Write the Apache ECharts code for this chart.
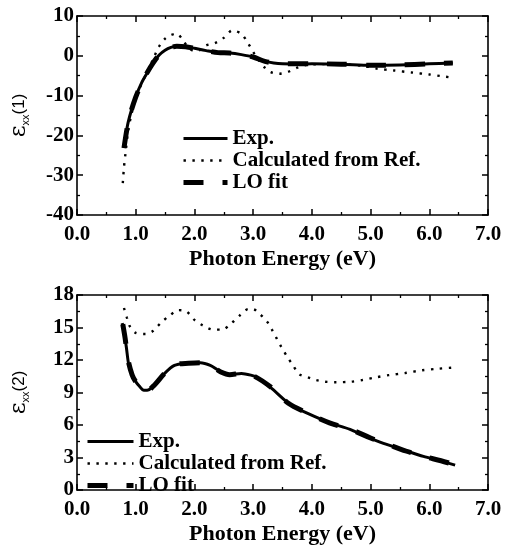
<!DOCTYPE html>
<html>
<head>
<meta charset="utf-8">
<script src="https://cdn.jsdelivr.net/npm/echarts@6/dist/echarts.min.js"></script>
<style>
  html, body { margin: 0; padding: 0; background: #fff; }
  #main { width: 507px; height: 546px; }
</style>
</head>
<body>
<div id="main"></div>
<script>
// 数据：光子能量 (eV) 与介电函数
var xTicks = [0, 1, 2, 3, 4, 5, 6, 7];
var seriesNames = ['Exp.', 'Calculated from Ref.', 'LO fit'];

// εxx(1)
var eps1Exp = [[0.8,-23],[0.83,-20],[0.87,-16.8],[0.93,-13.5],[1.0,-10.3],[1.1,-6.8],[1.2,-4.2],[1.3,-1.8],[1.4,0.2],[1.5,1.4],[1.6,2.1],[1.7,2.4],[1.8,2.4],[1.9,2.2],[2.0,1.9],[2.2,1.3],[2.4,0.8],[2.6,0.7],[2.8,0.3],[3.0,-0.3],[3.1,-0.9],[3.2,-1.4],[3.35,-1.8],[3.5,-2.0],[3.8,-2.1],[4.0,-2.0],[4.5,-2.1],[5.0,-2.4],[5.5,-2.3],[6.0,-2.0],[6.4,-1.8]];
var eps1Calc = [[0.78,-32],[0.8,-28],[0.83,-24],[0.87,-19],[0.93,-14.5],[1.0,-11],[1.1,-7],[1.2,-4],[1.3,-0.7],[1.4,2.4],[1.5,4.3],[1.6,5.2],[1.7,5.6],[1.8,4],[1.9,2],[2.0,1.2],[2.1,1.5],[2.2,2.6],[2.35,3.2],[2.5,4.5],[2.65,6.4],[2.8,5.5],[2.9,3.5],[3.0,1],[3.1,-1.2],[3.2,-3],[3.3,-4.1],[3.45,-4.5],[3.6,-4],[3.75,-3],[3.9,-2.3],[4.2,-2.1],[4.6,-2.2],[4.9,-2.6],[5.1,-3.2],[5.4,-3.7],[5.7,-4.2],[6.0,-4.7],[6.2,-5.1],[6.4,-5.5]];
var eps1LO = [[0.8,-23.2],[0.85,-18.5],[0.9,-15],[1.0,-10.4],[1.1,-6.9],[1.2,-4.1],[1.3,-1.7],[1.4,0.2],[1.55,1.8],[1.7,2.4],[1.85,2.3],[2.0,1.9],[2.2,1.3],[2.4,0.8],[2.6,0.7],[2.8,0.3],[3.0,-0.3],[3.2,-1.4],[3.5,-2.0],[4.0,-2.0],[4.5,-2.1],[5.0,-2.4],[5.5,-2.3],[6.0,-2.0],[6.4,-1.8]];

// εxx(2)
var eps2Exp = [[0.77,15.4],[0.8,14.6],[0.84,13.2],[0.88,11.6],[0.94,10.6],[1.0,10.0],[1.06,9.6],[1.14,9.2],[1.22,9.25],[1.32,9.7],[1.48,10.7],[1.66,11.5],[1.88,11.7],[2.1,11.75],[2.27,11.5],[2.44,10.95],[2.6,10.65],[2.8,10.75],[2.96,10.6],[3.06,10.4],[3.29,9.5],[3.63,7.9],[3.92,7.1],[4.31,6.2],[4.65,5.6],[4.94,4.9],[5.22,4.3],[5.56,3.7],[5.9,3.1],[6.18,2.7],[6.44,2.3]];
var eps2Calc = [[0.8,16.8],[0.85,15.9],[0.9,15.1],[1.0,14.5],[1.17,14.4],[1.3,14.7],[1.44,15.5],[1.58,16.1],[1.72,16.6],[1.86,16.5],[2.0,15.7],[2.14,15.2],[2.32,14.8],[2.47,14.8],[2.63,15.4],[2.77,16.1],[2.92,16.7],[3.0,16.7],[3.1,16.3],[3.23,15.6],[3.32,14.8],[3.4,14.0],[3.48,13.2],[3.58,12.3],[3.68,11.5],[3.78,10.7],[3.93,10.4],[4.07,10.15],[4.22,10.0],[4.41,9.95],[4.67,10.0],[4.86,10.15],[5.09,10.4],[5.31,10.6],[5.59,10.8],[5.88,11.05],[6.16,11.2],[6.41,11.3]];
var eps2LO = [[0.78,15.3],[0.82,14.0],[0.87,12.0],[0.94,10.6],[1.0,10.0],[1.1,9.4],[1.2,9.2],[1.32,9.7],[1.5,10.8],[1.7,11.6],[1.9,11.7],[2.1,11.75],[2.3,11.4],[2.45,10.9],[2.6,10.65],[2.8,10.75],[3.0,10.55],[3.3,9.5],[3.6,8.0],[3.9,7.15],[4.3,6.2],[4.7,5.5],[5.0,4.8],[5.3,4.2],[5.6,3.6],[5.9,3.1],[6.2,2.7],[6.42,2.35]];

var myChart = echarts.init(document.getElementById('main'));

var serif = 'Liberation Serif';
var labelFont = { fontFamily: serif, fontWeight: 'bold', fontSize: 21, color: '#000' };

// 三种线型：实线、点线、粗虚线
var styles = [
    { color: '#000', width: 3 },
    { color: '#000', width: 2.4, type: [2.4, 6.5] },
    { color: '#000', width: 5, type: [20, 19] }
];

function xAx(grid, top) {
    return {
        type: 'value', gridIndex: grid, position: top ? 'top' : 'bottom',
        min: xTicks[0], max: xTicks[xTicks.length - 1], interval: 1,
        axisLine: { onZero: false, lineStyle: { color: '#000', width: 1.6 } },
        axisTick: { inside: true, length: 6, lineStyle: { color: '#000', width: 1.5 } },
        minorTick: { show: true, splitNumber: 2, length: 3, lineStyle: { color: '#000', width: 1.3 } },
        splitLine: { show: false },
        axisLabel: top ? { show: false } : Object.assign({ margin: 9, formatter: function (v) { return v.toFixed(1); } }, labelFont),
        name: top ? '' : 'Photon Energy (eV)',
        nameLocation: 'middle', nameGap: 33,
        nameTextStyle: { fontFamily: serif, fontWeight: 'bold', fontSize: 22, color: '#000' }
    };
}
function yAx(grid, right, min, max, step, idx) {
    return {
        type: 'value', gridIndex: grid, position: right ? 'right' : 'left',
        min: min, max: max, interval: step,
        axisLine: { onZero: false, lineStyle: { color: '#000', width: 1.6 } },
        axisTick: { inside: true, length: 6, lineStyle: { color: '#000', width: 1.5 } },
        minorTick: { show: true, splitNumber: 2, length: 3, lineStyle: { color: '#000', width: 1.3 } },
        splitLine: { show: false },
        axisLabel: right ? { show: false } : Object.assign({ margin: 3 }, labelFont),
        name: right ? '' : '{e|ε}{s|xx}{n|(' + idx + ')}',
        nameLocation: 'middle', nameGap: 46, nameRotate: 90,
        nameTextStyle: {
            color: '#000',
            rich: {
                e: { fontFamily: 'DejaVu Serif', fontSize: 23, color: '#000' },
                s: { fontFamily: 'Liberation Sans', fontSize: 11, color: '#000', verticalAlign: 'bottom', padding: [12, 0, 0, 0] },
                n: { fontFamily: 'Liberation Sans', fontSize: 17, color: '#000' }
            }
        }
    };
}

function lines(xi, yi, exp, calc, lo) {
    return [exp, calc, lo].map(function (d, i) {
        return { name: seriesNames[i], type: 'line', xAxisIndex: xi, yAxisIndex: yi, data: d, color: '#000',
                 smooth: 0.3, symbol: 'none', lineStyle: styles[i] };
    });
}

function legend(left, top, w) {
    return {
        orient: 'vertical', left: left, top: top, padding: 0,
        itemWidth: w, itemHeight: 14, itemGap: 1,
        selectedMode: false,
        itemStyle: { color: 'rgba(0,0,0,0)', borderWidth: 0, opacity: 0 },
        textStyle: { fontFamily: serif, fontWeight: 'bold', fontSize: 21, color: '#000', lineHeight: 19 },
        data: seriesNames.map(function (n, i) {
            return { name: n, lineStyle: styles[i] };
        })
    };
}

var option = {
    animation: false,
    backgroundColor: '#fff',
    grid: [
        { left: 76, right: 19, top: 16, height: 199 },
        { left: 76, right: 19, top: 295, height: 199 }
    ],
    legend: [legend(181, 128, 44), legend(85, 431, 46)],
    xAxis: [xAx(0, false), xAx(0, true), xAx(1, false), xAx(1, true)],
    yAxis: [
        yAx(0, false, -40, 10, 10, 1), yAx(0, true, -40, 10, 10, 1),
        yAx(1, false, 0, 18, 3, 2), yAx(1, true, 0, 18, 3, 2)
    ],
    series: lines(0, 0, eps1Exp, eps1Calc, eps1LO).concat(lines(2, 2, eps2Exp, eps2Calc, eps2LO))
};

myChart.setOption(option);
</script>
</body>
</html>
